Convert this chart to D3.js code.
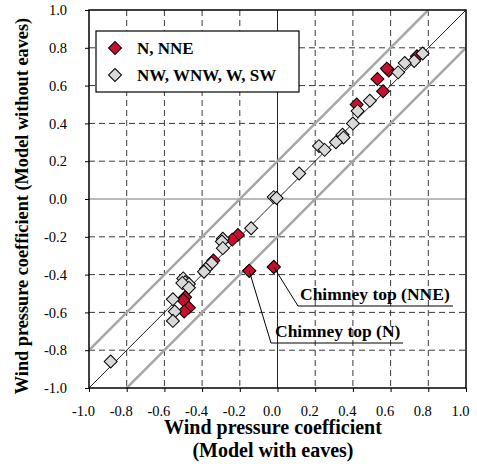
<!DOCTYPE html>
<html>
<head>
<meta charset="utf-8">
<script src="https://cdn.jsdelivr.net/npm/d3@7"></script>
<style>
  html, body { margin: 0; padding: 0; background: #fff; }
  svg { display: block; }
</style>
</head>
<body>
<svg id="chart" width="477" height="471"></svg>
<script>
// Wind pressure coefficients: model with eaves (x) vs. model without eaves (y)
const tickValues = [-1.0, -0.8, -0.6, -0.4, -0.2, 0.0, 0.2, 0.4, 0.6, 0.8, 1.0];

// Wind directions N, NNE
const seriesNorth = [
  [0.74, 0.755], [0.59, 0.68], [0.58, 0.69], [0.53, 0.635], [0.56, 0.57],
  [0.42, 0.50], [-0.21, -0.19], [-0.24, -0.215], [-0.34, -0.325],
  [-0.49, -0.52], [-0.50, -0.535], [-0.47, -0.575], [-0.495, -0.595],
  [-0.15, -0.38], [-0.02, -0.36]
];

// Wind directions NW, WNW, W, SW
const seriesWest = [
  [0.77, 0.77], [0.725, 0.73], [0.675, 0.72], [0.64, 0.67], [0.49, 0.52],
  [0.425, 0.465], [0.40, 0.40], [0.345, 0.34], [0.35, 0.325], [0.31, 0.30],
  [0.22, 0.28], [0.25, 0.26], [0.115, 0.135], [-0.02, 0.01], [-0.005, 0.005],
  [-0.14, -0.155], [-0.29, -0.21], [-0.295, -0.225], [-0.29, -0.26],
  [-0.35, -0.34], [-0.38, -0.37], [-0.39, -0.385], [-0.50, -0.42],
  [-0.49, -0.44], [-0.47, -0.45], [-0.505, -0.445], [-0.47, -0.47],
  [-0.555, -0.53], [-0.545, -0.595], [-0.555, -0.645], [-0.885, -0.86]
];

const seriesNames = ["N, NNE", "NW, WNW, W, SW"];
const seriesColors = ["#c8102e", "#d9d9d9"];

// Labelled outliers and the points they mark
const calloutLabels = ["Chimney top (NNE)", "Chimney top (N)"];
const calloutPoints = [[-0.02, -0.36], [-0.15, -0.38]];

const FONT = "'Liberation Serif', 'Times New Roman', Tinos, 'DejaVu Serif', serif";

const margin = { left: 89, top: 10, right: 11, bottom: 83 };
const W = 477, H = 471;
const iw = W - margin.left - margin.right;
const ih = H - margin.top - margin.bottom;

const svg = d3.select("#chart");
const g = svg.append("g").attr("transform", `translate(${margin.left},${margin.top})`);

const x = d3.scaleLinear().domain([-1, 1]).range([0, iw]);
const y = d3.scaleLinear().domain([-1, 1]).range([ih, 0]);

const addText = (sel, size, bold) => sel
  .attr("font-family", FONT).style("font-family", FONT)
  .style("font-size", size + "px")
  .style("font-weight", bold ? "bold" : "normal")
  .attr("fill", "#000");

// Dashed grid (inner lines only)
const inner = tickValues.filter(v => v > -1 && v < 1 && v !== 0);
g.append("g").selectAll("line").data(inner).join("line")
  .attr("x1", d => x(d)).attr("x2", d => x(d))
  .attr("y1", 0).attr("y2", ih)
  .attr("stroke", "#3a3a3a").attr("stroke-width", 1).attr("stroke-dasharray", "6,4");
g.append("g").selectAll("line").data(inner).join("line")
  .attr("y1", d => y(d)).attr("y2", d => y(d))
  .attr("x1", 0).attr("x2", iw)
  .attr("stroke", "#3a3a3a").attr("stroke-width", 1).attr("stroke-dasharray", "6,4");

// Zero lines
g.append("line").attr("x1", x(0)).attr("x2", x(0)).attr("y1", 0).attr("y2", ih)
  .attr("stroke", "#222").attr("stroke-width", 1);
g.append("line").attr("x1", 0).attr("x2", iw).attr("y1", y(0)).attr("y2", y(0))
  .attr("stroke", "#777").attr("stroke-width", 1);

// Reference lines y = x ± 0.2 and y = x
g.append("clipPath").attr("id", "plotclip").append("rect")
  .attr("width", iw).attr("height", ih);
const refs = g.append("g").attr("clip-path", "url(#plotclip)");
[0.2, -0.2].forEach(off => {
  refs.append("line")
    .attr("x1", x(-1.2)).attr("y1", y(-1.2 + off))
    .attr("x2", x(1.2)).attr("y2", y(1.2 + off))
    .attr("stroke", "#a6a6a6").attr("stroke-width", 2.5);
});
refs.append("line")
  .attr("x1", x(-1)).attr("y1", y(-1)).attr("x2", x(1)).attr("y2", y(1))
  .attr("stroke", "#222").attr("stroke-width", 1);

// Axes
const fmt = d => d3.format(".1f")(d).replace("−", "-");
const xAxis = d3.axisBottom(x).tickValues(tickValues).tickSize(4).tickPadding(14).tickFormat(fmt);
const yAxis = d3.axisLeft(y).tickValues(tickValues).tickSize(4).tickPadding(18).tickFormat(fmt);

const gx = g.append("g").attr("transform", `translate(0,${ih})`).call(xAxis);
const gy = g.append("g").call(yAxis);
[gx, gy].forEach(a => {
  a.attr("font-family", FONT);
  a.select(".domain").remove();
  a.selectAll(".tick line").attr("stroke", "#000");
  addText(a.selectAll(".tick text"), 14.5, false);
});
gx.selectAll(".tick text").attr("dx", -6);

// Plot frame
g.append("rect").attr("width", iw).attr("height", ih)
  .attr("fill", "none").attr("stroke", "#000").attr("stroke-width", 1.5);

// Markers
const diamond = d3.symbol().type(d3.symbolSquare).size(84);
const drawSeries = (data, color) => {
  g.append("g").selectAll("path").data(data).join("path")
    .attr("d", diamond)
    .attr("transform", d => `translate(${x(d[0])},${y(d[1])}) rotate(45)`)
    .attr("fill", color).attr("stroke", "#000").attr("stroke-width", 1);
};
drawSeries(seriesNorth, seriesColors[0]);
drawSeries(seriesWest, seriesColors[1]);

// Callouts with leader line and underline
const calloutText = [[300, 300], [275, 337]];
const calloutUnder = [[298, 453, 306], [271, 403, 343]];
calloutLabels.forEach((lab, i) => {
  const [px, py] = calloutPoints[i];
  const [tx, ty] = calloutText[i];
  const [u1, u2, uy] = calloutUnder[i];
  svg.append("line")
    .attr("x1", margin.left + x(px)).attr("y1", margin.top + y(py))
    .attr("x2", u1).attr("y2", uy)
    .attr("stroke", "#000").attr("stroke-width", 1);
  svg.append("line").attr("x1", u1).attr("x2", u2).attr("y1", uy).attr("y2", uy)
    .attr("stroke", "#000").attr("stroke-width", 1);
  addText(svg.append("text").attr("x", tx).attr("y", ty), 17.5, true).text(lab);
});
// marked points drawn above their leaders
g.append("g").selectAll("path").data(calloutPoints).join("path")
  .attr("d", diamond)
  .attr("transform", d => `translate(${x(d[0])},${y(d[1])}) rotate(45)`)
  .attr("fill", seriesColors[0]).attr("stroke", "#000").attr("stroke-width", 1);

// Legend
const lg = svg.append("g").attr("transform", "translate(96,31)");
lg.append("rect").attr("width", 203).attr("height", 61)
  .attr("fill", "#fff").attr("stroke", "#000").attr("stroke-width", 1.2);
seriesNames.forEach((name, i) => {
  const yy = 17 + i * 27;
  lg.append("path").attr("d", diamond)
    .attr("transform", `translate(19,${yy}) rotate(45)`)
    .attr("fill", seriesColors[i]).attr("stroke", "#000").attr("stroke-width", 1);
  addText(lg.append("text").attr("x", 41).attr("y", yy + 6), 17, true).text(name);
});

// Axis titles
addText(svg.append("text").attr("x", 273).attr("y", 434).attr("text-anchor", "middle"), 20, true)
  .text("Wind pressure coefficient");
addText(svg.append("text").attr("x", 273).attr("y", 457).attr("text-anchor", "middle"), 20, true)
  .text("(Model with eaves)");
addText(svg.append("text").attr("transform", "translate(28,206) rotate(-90)")
  .attr("text-anchor", "middle"), 18.3, true)
  .text("Wind pressure coefficient (Model without eaves)");
</script>
</body>
</html>
